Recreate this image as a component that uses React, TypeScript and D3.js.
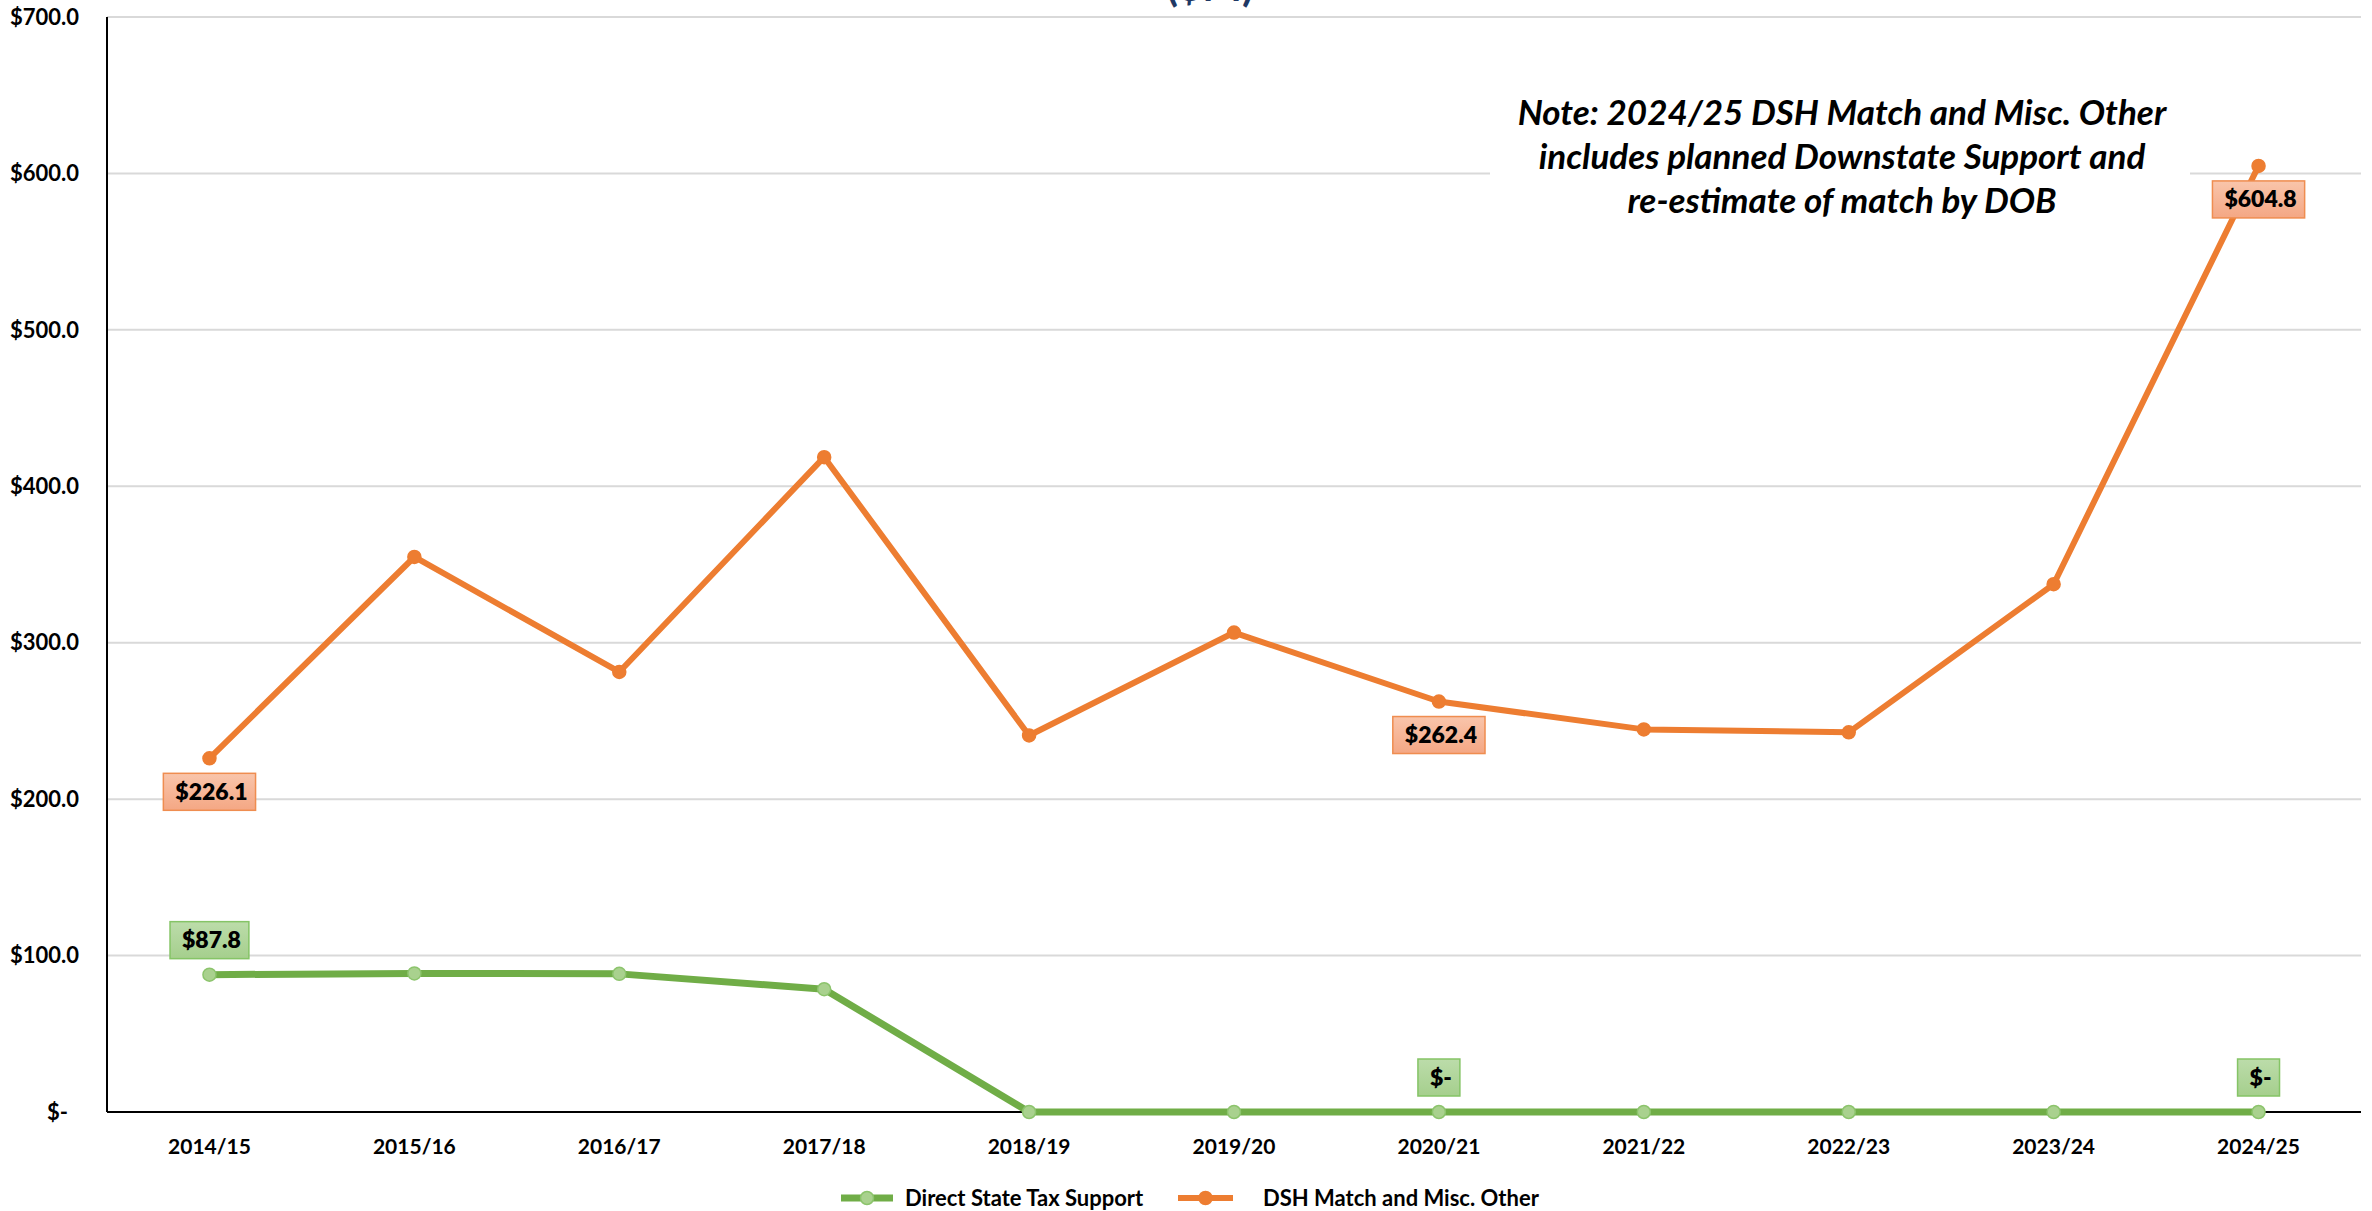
import React, { useEffect, useRef } from "react";
import * as d3 from "d3";

const categories = ["2014/15", "2015/16", "2016/17", "2017/18", "2018/19", "2019/20", "2020/21", "2021/22", "2022/23", "2023/24", "2024/25"];
const directStateTax = [87.8, 88.6, 88.3, 78.5, 0, 0, 0, 0, 0, 0, 0];
const dshMatch = [226.1, 354.8, 281.3, 418.6, 240.7, 306.5, 262.4, 244.6, 242.7, 337.4, 604.8];
const yTicks = [0, 100, 200, 300, 400, 500, 600, 700];
const seriesNames = ["Direct State Tax Support", "DSH Match and Misc. Other"];
// labelled points: [series index, category index, position]
const labelled: [number, number, "above" | "below"][] = [
  [1, 0, "below"], [1, 6, "below"], [1, 10, "below"],
  [0, 0, "above"], [0, 6, "above"], [0, 10, "above"],
];
const noteLines = [
  "Note: 2024/25 DSH Match and Misc. Other",
  "includes planned Downstate Support and",
  "re-estimate of match by DOB",
];
const titleText = "($M)";

const W = 2372, H = 1211;
const FONT = "Lato, 'Open Sans', sans-serif";
const fmt = (v: number) => (v === 0 ? "$-" : "$" + v.toFixed(1));

export default function App() {
  const ref = useRef<SVGSVGElement>(null);
  useEffect(() => {
    const svg = d3.select(ref.current);
    svg.selectAll("*").remove();
    const left = 107, right = 2361, top = 17, bottom = 1112;
    const x = d3.scalePoint<string>().domain(categories).range([left, right]).padding(0.5);
    const y = d3.scaleLinear().domain([0, 700]).range([bottom, top]);

    const defs = svg.append("defs");
    const mkGrad = (id: string, c1: string, c2: string) => {
      const g = defs.append("linearGradient").attr("id", id).attr("x1", 0).attr("y1", 0).attr("x2", 0).attr("y2", 1);
      g.append("stop").attr("offset", "0%").attr("stop-color", c1);
      g.append("stop").attr("offset", "100%").attr("stop-color", c2);
    };
    mkGrad("gOr", "#f9c5ab", "#f4a784");
    mkGrad("gGr", "#bcdcaa", "#a5cf8d");

    // title (cut off at top)
    svg.append("text").attr("x", 1210).attr("y", 1).attr("text-anchor", "middle")
      .attr("font-family", FONT).attr("font-weight", 700).attr("font-size", 42).attr("fill", "#1f3864").text(titleText);

    // gridlines
    svg.append("g").selectAll("line").data(yTicks.filter(t => t > 0)).join("line")
      .attr("x1", left).attr("x2", right).attr("y1", d => y(d)).attr("y2", d => y(d))
      .attr("stroke", "#d9d9d9").attr("stroke-width", 2);

    // note white box
    svg.append("rect").attr("x", 1490).attr("y", 70).attr("width", 700).attr("height", 160).attr("fill", "#fff");
    const note = svg.append("text").attr("font-family", FONT).attr("font-weight", 700).attr("font-style", "italic")
      .attr("font-size", 35).attr("text-anchor", "middle").attr("fill", "#000");
    noteLines.forEach((l, i) => {
      note.append("tspan").attr("x", 1842).attr("y", 125 + i * 44).text(l);
    });

    // axes
    svg.append("line").attr("x1", left).attr("x2", left).attr("y1", top).attr("y2", bottom).attr("stroke", "#000").attr("stroke-width", 2);
    svg.append("line").attr("x1", left).attr("x2", right).attr("y1", bottom).attr("y2", bottom).attr("stroke", "#000").attr("stroke-width", 2);

    // y labels
    svg.append("g").selectAll("text").data(yTicks).join("text")
      .attr("x", d => (d === 0 ? 68 : 79)).attr("y", d => y(d)).attr("dy", "0.35em")
      .attr("text-anchor", "end").attr("font-family", FONT).attr("font-weight", 700).attr("font-size", 22)
      .text(d => (d === 0 ? "$-" : "$" + d.toFixed(1)));

    // x labels
    svg.append("g").selectAll("text").data(categories).join("text")
      .attr("x", d => x(d)!).attr("y", 1147).attr("dy", "0.35em")
      .attr("text-anchor", "middle").attr("font-family", FONT).attr("font-weight", 700).attr("font-size", 21)
      .text(d => d);

    const series = [
      { vals: directStateTax, color: "#70ad47", width: 7, mFill: "#a9d18e", mStroke: "#8cc46c", r: 6.5 },
      { vals: dshMatch, color: "#ed7d31", width: 6, mFill: "#ed7d31", mStroke: "#ed7d31", r: 6.5 },
    ];
    const line = d3.line<number>().x((_, i) => x(categories[i])!).y(d => y(d));
    series.forEach(s => {
      svg.append("path").attr("d", line(s.vals)).attr("fill", "none").attr("stroke", s.color)
        .attr("stroke-width", s.width).attr("stroke-linejoin", "round");
      svg.append("g").selectAll("circle").data(s.vals).join("circle")
        .attr("cx", (_, i) => x(categories[i])!).attr("cy", d => y(d)).attr("r", s.r)
        .attr("fill", s.mFill).attr("stroke", s.mStroke).attr("stroke-width", 1.5);
    });

    // data labels
    labelled.forEach(([si, ci, pos]) => {
      const v = si === 0 ? directStateTax[ci] : dshMatch[ci];
      const cx = x(categories[ci])!;
      const cy = y(v);
      const g = svg.append("g");
      const rect = g.append("rect");
      const t = g.append("text").attr("font-family", FONT).attr("font-weight", 800).attr("font-size", 23)
        .attr("text-anchor", "middle").attr("fill", "#000").text(fmt(v));
      const tw = (t.node() as SVGTextElement).getComputedTextLength();
      const bw = tw + 20, bh = 37;
      const by = pos === "below" ? cy + 15 : cy - 16 - bh;
      rect.attr("x", cx - bw / 2).attr("y", by).attr("width", bw).attr("height", bh)
        .attr("fill", si === 0 ? "url(#gGr)" : "url(#gOr)")
        .attr("stroke", si === 0 ? "#85c466" : "#ef8d50").attr("stroke-width", 1.5);
      t.attr("x", cx + 2).attr("y", by + bh / 2).attr("dy", "0.35em");
    });

    // legend
    const leg = [
      { x0: 841, x1: 893, tx: 905, s: series[0], name: seriesNames[0] },
      { x0: 1178, x1: 1233, tx: 1263, s: series[1], name: seriesNames[1] },
    ];
    leg.forEach(l => {
      svg.append("line").attr("x1", l.x0).attr("x2", l.x1).attr("y1", 1198).attr("y2", 1198)
        .attr("stroke", l.s.color).attr("stroke-width", l.s.width);
      svg.append("circle").attr("cx", (l.x0 + l.x1) / 2).attr("cy", 1198).attr("r", l.s.r)
        .attr("fill", l.s.mFill).attr("stroke", l.s.mStroke).attr("stroke-width", 1.5);
      svg.append("text").attr("x", l.tx).attr("y", 1198).attr("dy", "0.35em")
        .attr("font-family", FONT).attr("font-weight", 700).attr("font-size", 22).text(l.name);
    });
  }, []);
  return (
    <svg ref={ref} width={W} height={H} style={{ position: "absolute", left: 0, top: 0, background: "#fff" }} />
  );
}
